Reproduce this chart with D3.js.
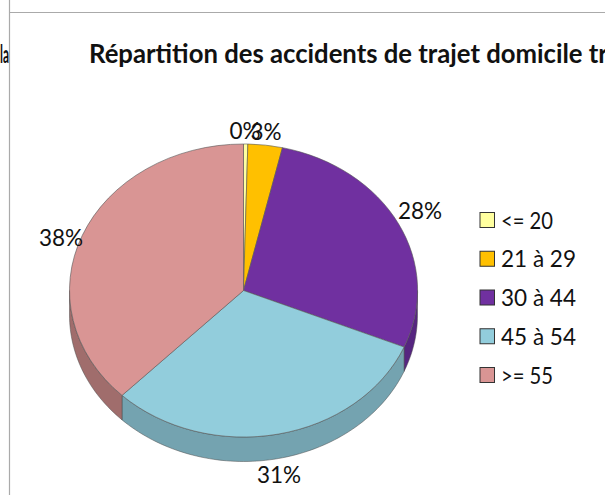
<!DOCTYPE html>
<html><head><meta charset="utf-8">
<script src="https://cdn.jsdelivr.net/npm/d3@7"></script>
<style>html,body{margin:0;padding:0;background:#fff;overflow:hidden}svg{display:block}text{font-family:Lato,"Open Sans",sans-serif;fill:#111}</style>
</head><body><svg id="c" width="605" height="495"></svg>
<script>
const categories = ["<= 20","21 à 29","30 à 44","45 à 54",">= 55"];
const values = [0.4,3.2,27.7,31,37.7];
const percentLabels = ["0%","3%","28%","31%","38%"];
const topColors = ["#ffff9f","#ffc000","#7030a0","#92cddc","#d99594"];
const sideColors = ["#cccc7f","#cc9a00","#562580","#74a3b0","#a06d6c"];
const chartTitle = "Répartition des accidents de trajet domicile travail";

(function(){
const W=605,H=495,cx=243.5,cy=290.5,rx=174,ry=146.5,depth=24.5;
const labelAnchors=[[245,131],[266,132],[420,211],[279,475],[61,238]];
const svg=d3.select("#c");
svg.append("line").attr("x1",10).attr("x2",W).attr("y1",12.5).attr("y2",12.5).attr("stroke","#aaa").attr("stroke-width",1.2);
svg.append("line").attr("x1",9.5).attr("x2",9.5).attr("y1",0).attr("y2",H).attr("stroke","#aaa").attr("stroke-width",1.2);

svg.append("text").attr("x",9).attr("y",63).attr("text-anchor","end").attr("font-size",24).attr("font-weight",700).attr("textLength",9).attr("lengthAdjust","spacingAndGlyphs").text("la");
svg.append("text").attr("x",89).attr("y",63).attr("font-size",25.7).attr("font-weight",700).attr("fill","#000").text(chartTitle);

const arcs=d3.pie().sort(null).value(d=>d)(values);
const px=a=>cx+rx*Math.sin(a), py=a=>cy-ry*Math.cos(a);
const g=svg.append("g");
arcs.forEach((s,i)=>{
  const a0=Math.max(s.startAngle,Math.PI/2), a1=Math.min(s.endAngle,Math.PI*1.5);
  if(a1<=a0) return;
  const n=Math.max(2,Math.ceil((a1-a0)*40));
  const t=d3.range(n+1).map(k=>a0+(a1-a0)*k/n);
  const pts=t.map(a=>[px(a),py(a)]).concat(t.slice().reverse().map(a=>[px(a),py(a)+depth]));
  g.append("path").attr("d",d3.line()(pts)+"Z").attr("fill",sideColors[i]).attr("stroke","#4d4d4d").attr("stroke-width",.5);
});
const arc=d3.arc().innerRadius(0).outerRadius(1);
const face=svg.append("g").attr("transform",`translate(${cx},${cy}) scale(${rx},${ry})`);
arcs.forEach((s,i)=>{
  face.append("path").attr("d",arc(s)).attr("fill",topColors[i]).attr("stroke","#555").attr("stroke-width",.6).attr("vector-effect","non-scaling-stroke");
});
percentLabels.forEach((t,i)=>{
  svg.append("text").attr("x",labelAnchors[i][0]).attr("y",labelAnchors[i][1]+8).attr("text-anchor","middle").attr("font-size",22.5).text(t);
});
const ly=d3.scalePoint().domain(categories).range([220.5,375.5]);
categories.forEach((c,i)=>{
  const y=ly(c);
  svg.append("rect").attr("x",480).attr("y",y-8).attr("width",14.5).attr("height",15).attr("fill",topColors[i]).attr("stroke","#333").attr("stroke-width",1);
  svg.append("text").attr("x",501).attr("y",y+8).attr("font-size",22.5).attr("textLength",c.length===5?52:75).attr("lengthAdjust","spacingAndGlyphs").text(c);
});
})();
</script></body></html>
